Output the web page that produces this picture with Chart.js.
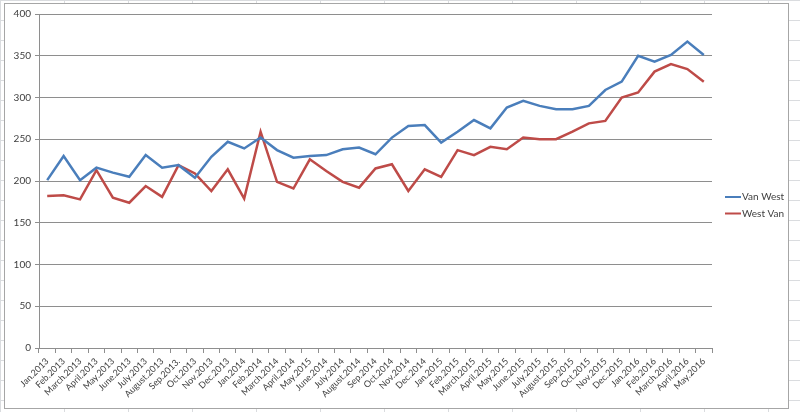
<!DOCTYPE html>
<html>
<head>
<meta charset="utf-8">
<script src="https://cdn.jsdelivr.net/npm/chart.js@4.4.0/dist/chart.umd.min.js"></script>
<style>
    html, body { margin: 0; padding: 0; }
    body {
        width: 800px; height: 412px; overflow: hidden;
        background-color: #ffffff;
        background-image:
            linear-gradient(to bottom, #dadcdf 1px, transparent 1px),
            linear-gradient(to right, #dadcdf 1px, transparent 1px);
        background-size: 64px 20px;
        position: relative;
    }
    #container {
        position: absolute; left: 4px; top: 3px;
        width: 783px; height: 404px;
        background: #ffffff;
        border: 1px solid #a6a6a6;
    }
</style>
</head>
<body>
<div id="container"><canvas id="chart" width="783" height="404"></canvas></div>
<script>
// Month labels as written in the original sheet (typos kept).
const months = [
    'Jan.2013', 'Feb.2013', 'March.2013', 'April.2013', 'May.2013', 'June.2013',
    'July.2013', 'August.2013', 'Sep.2013.', 'Oct.2013', 'Nov.2013', 'Dec.2013',
    'Jan.2014', 'Feb.2014', 'March.2014', 'April.2014', 'May.2015', 'June.2014',
    'July.2014', 'August.2014', 'Sep.2014', 'Oct.2014', 'Nov.2014', 'Dec.2014',
    'Jan.2015', 'Feb.2015', 'March.2015', 'April.2015', 'May.2015', 'June.2015',
    'July.2015', 'August.2015', 'Sep.2015', 'Oct.2015', 'Nov.2015', 'Dec.2015',
    'Jan.2016', 'Feb.2016', 'March.2016', 'April.2016', 'May.2016'
];

// Series values.
const vanWest = [
    201, 230, 201, 216, 210, 205, 231, 216, 219, 204, 229, 247,
    239, 252, 237, 228, 230, 231, 238, 240, 232, 252, 266, 267,
    246, 259, 273, 263, 288, 296, 290, 286, 286, 290, 309, 319,
    350, 343, 351, 367, 351
];
const westVan = [
    182, 183, 178, 213, 180, 174, 194, 181, 219, 209, 188, 214,
    179, 259, 199, 191, 226, 212, 199, 192, 215, 220, 188, 214,
    205, 237, 231, 241, 238, 252, 250, 250, 259, 269, 272, 300,
    306, 331, 340, 334, 319
];

const yTicks = { min: 0, max: 400, step: 50 };

const textColor = '#404040';
const gridColor = '#8e8e8e';
const fontFamily = 'Lato, "Open Sans", sans-serif';

// Simple Excel-like legend drawn to the right of the plot.
const sideLegend = {
    id: 'sideLegend',
    afterDraw(chart) {
        const ctx = chart.ctx;
        ctx.save();
        ctx.font = '10px ' + fontFamily;
        ctx.textBaseline = 'middle';
        chart.data.datasets.forEach((set, i) => {
            const y = 193 + i * 16.5;
            ctx.strokeStyle = set.borderColor;
            ctx.lineWidth = 2;
            ctx.beginPath();
            ctx.moveTo(720, y);
            ctx.lineTo(736, y);
            ctx.stroke();
            ctx.fillStyle = textColor;
            ctx.fillText(set.label, 737, y);
        });
        ctx.restore();
    }
};

new Chart(document.getElementById('chart'), {
    type: 'line',
    data: {
        labels: months,
        datasets: [
            {
                label: 'Van West',
                data: vanWest,
                borderColor: '#4a7ebb',
                backgroundColor: '#4a7ebb',
                borderWidth: 2.5,
                pointRadius: 0,
                tension: 0
            },
            {
                label: 'West Van',
                data: westVan,
                borderColor: '#be4b48',
                backgroundColor: '#be4b48',
                borderWidth: 2.5,
                pointRadius: 0,
                tension: 0
            }
        ]
    },
    options: {
        responsive: false,
        animation: false,
        events: [],
        layout: { padding: { top: 10, left: 0, right: 76, bottom: 0 } },
        plugins: {
            legend: { display: false },
            tooltip: { enabled: false }
        },
        scales: {
            x: {
                offset: true,
                grid: {
                    offset: true,
                    drawOnChartArea: false,
                    drawTicks: true,
                    tickLength: 5,
                    color: gridColor
                },
                border: { color: gridColor },
                ticks: {
                    autoSkip: false,
                    maxRotation: 45,
                    minRotation: 45,
                    padding: 3,
                    color: textColor,
                    font: { family: fontFamily, size: 9 }
                },
                afterFit(scale) { scale.height = 60; }
            },
            y: {
                min: yTicks.min,
                max: yTicks.max,
                ticks: {
                    stepSize: yTicks.step,
                    padding: 4,
                    color: textColor,
                    font: { family: fontFamily, size: 10 }
                },
                grid: {
                    color: gridColor,
                    tickLength: 4
                },
                border: { color: gridColor },
                afterFit(scale) { scale.width = 34; }
            }
        }
    },
    plugins: [sideLegend]
});
</script>
</body>
</html>
